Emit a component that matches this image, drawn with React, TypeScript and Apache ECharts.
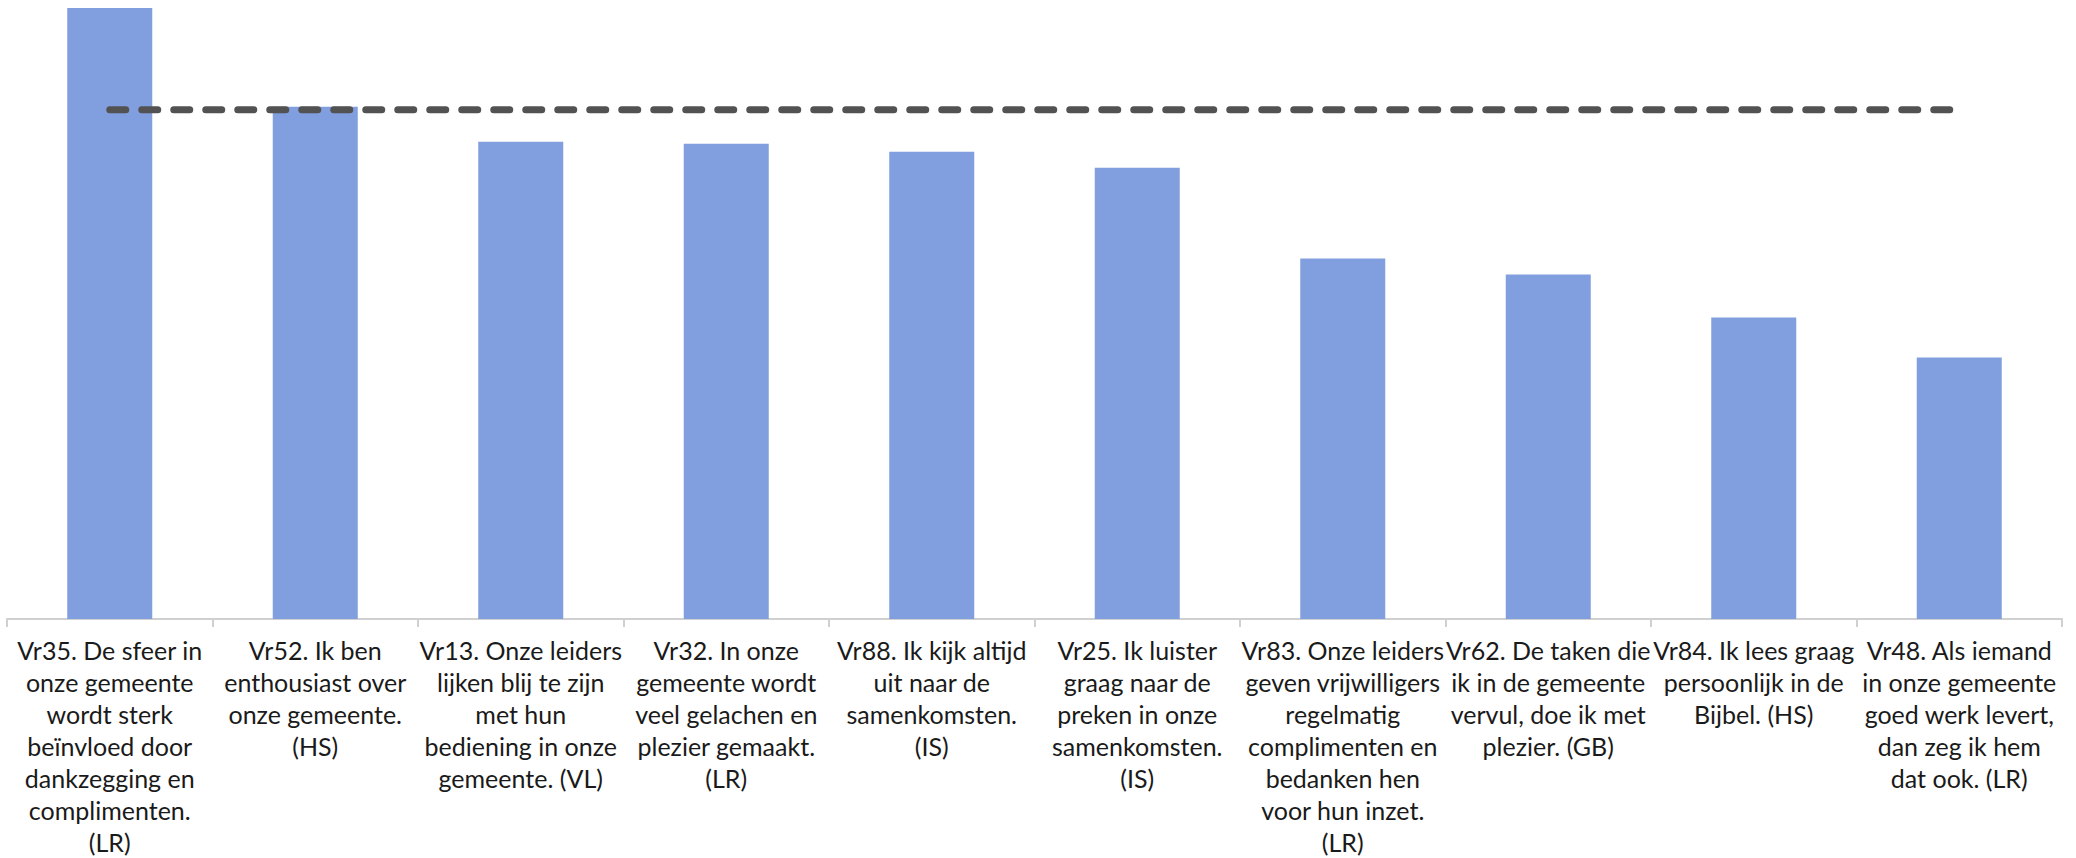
import React, { useEffect, useRef } from "react";
import * as echarts from "echarts";

const categories: string[] = [
  "Vr35. De sfeer in\nonze gemeente\nwordt sterk\nbeïnvloed door\ndankzegging en\ncomplimenten.\n(LR)",
  "Vr52. Ik ben\nenthousiast over\nonze gemeente.\n(HS)",
  "Vr13. Onze leiders\nlijken blij te zijn\nmet hun\nbediening in onze\ngemeente. (VL)",
  "Vr32. In onze\ngemeente wordt\nveel gelachen en\nplezier gemaakt.\n(LR)",
  "Vr88. Ik kijk altijd\nuit naar de\nsamenkomsten.\n(IS)",
  "Vr25. Ik luister\ngraag naar de\npreken in onze\nsamenkomsten.\n(IS)",
  "Vr83. Onze leiders\ngeven vrijwilligers\nregelmatig\ncomplimenten en\nbedanken hen\nvoor hun inzet.\n(LR)",
  "Vr62. De taken die\nik in de gemeente\nvervul, doe ik met\nplezier. (GB)",
  "Vr84. Ik lees graag\npersoonlijk in de\nBijbel. (HS)",
  "Vr48. Als iemand\nin onze gemeente\ngoed werk levert,\ndan zeg ik hem\ndat ook. (LR)",
];

const barValues: number[] = [61.2, 51.3, 47.8, 47.6, 46.8, 45.2, 36.1, 34.5, 30.2, 26.2];

const referenceValue = 51.0;
const referenceLine: number[] = categories.map(() => referenceValue);

export default function App() {
  const ref = useRef<HTMLDivElement>(null);

  useEffect(() => {
    if (!ref.current) return;
    const chart = echarts.init(ref.current, undefined, { renderer: "svg" });
    chart.setOption({
      animation: false,
      backgroundColor: "#ffffff",
      grid: { left: 7, right: 14, top: 0, bottom: 238, containLabel: false },
      xAxis: {
        type: "category",
        data: categories,
        boundaryGap: true,
        axisLine: { show: true, lineStyle: { color: "#d0d0d0", width: 2 } },
        axisTick: { show: true, length: 8, alignWithLabel: false, lineStyle: { color: "#d0d0d0", width: 2 } },
        axisLabel: {
          interval: 0,
          margin: 15,
          color: "#1a1a1a",
          fontSize: 25,
          lineHeight: 32,
          fontFamily: "Lato, 'Liberation Sans', sans-serif",
          align: "center",
        },
      },
      yAxis: {
        type: "value",
        min: 0,
        max: 62,
        show: false,
        splitLine: { show: false },
      },
      series: [
        {
          type: "bar",
          data: barValues,
          barWidth: 85,
          itemStyle: { color: "#819FDE" },
        },
        {
          type: "line",
          data: referenceLine,
          symbol: "none",
          lineStyle: { color: "#525252", width: 7, type: [16, 16], cap: "round" },
          z: 5,
        },
      ],
    });
    return () => chart.dispose();
  }, []);

  return (
    <div
      ref={ref}
      style={{ position: "fixed", left: 0, top: 0, width: 2076, height: 858, background: "#fff" }}
    />
  );
}
